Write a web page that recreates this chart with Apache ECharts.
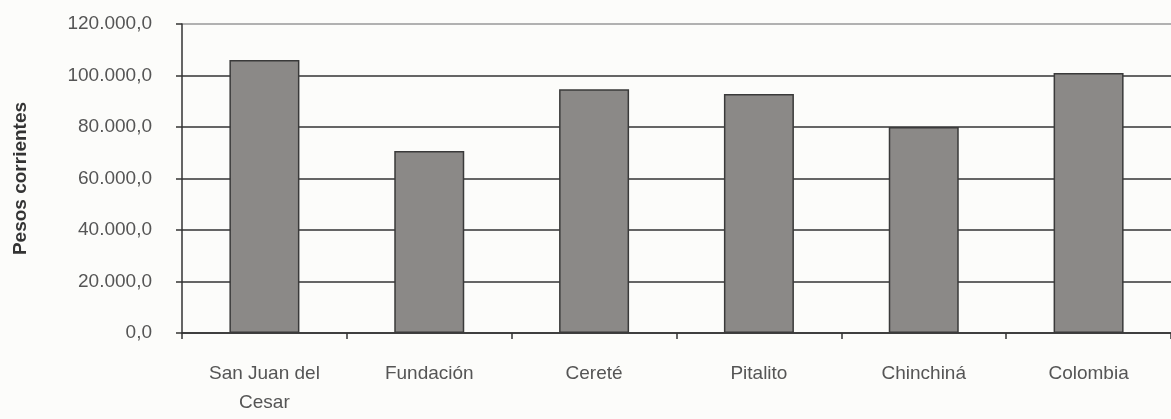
<!DOCTYPE html>
<html>
<head>
<meta charset="utf-8">
<script src="https://cdn.jsdelivr.net/npm/echarts@6/dist/echarts.min.js"></script>
<style>
  html, body { margin: 0; padding: 0; background: #fcfcfa; }
  #chart { width: 1171px; height: 419px; }
</style>
</head>
<body>
<div id="chart"></div>
<script>
// categorías y valores (pesos corrientes)
var categorias = ['San Juan del\nCesar', 'Fundación', 'Cereté', 'Pitalito', 'Chinchiná', 'Colombia'];
var valores = [106000, 70700, 94700, 92800, 80000, 101000];
var ejeY = { min: 0, max: 120000, interval: 20000 };

var chart = echarts.init(document.getElementById('chart'));

function formatoPesos(v) {
  // 120000 -> 120.000,0
  var s = String(Math.round(v)).replace(/\B(?=(\d{3})+(?!\d))/g, '.');
  return s + ',0';
}

var fuente = '"Liberation Sans", Arial, sans-serif';

var option = {
  backgroundColor: '#fcfcfa',
  animation: false,
  grid: { left: 182, top: 24, bottom: 86, width: 999 },
  xAxis: {
    type: 'category',
    data: categorias,
    axisLine: { lineStyle: { color: '#333', width: 1.5 } },
    axisTick: { show: true, length: 6, lineStyle: { color: '#333', width: 1.5 } },
    axisLabel: {
      color: '#555', fontSize: 19, fontFamily: fuente,
      margin: 26, lineHeight: 29
    }
  },
  yAxis: {
    type: 'value',
    min: ejeY.min, max: ejeY.max, interval: ejeY.interval,
    name: 'Pesos corrientes',
    nameLocation: 'middle',
    nameGap: 152,
    nameTextStyle: { color: '#333', fontSize: 19, fontWeight: 'bold', fontFamily: fuente },
    axisLine: { show: true, lineStyle: { color: '#333', width: 1.5 } },
    axisTick: { show: true, length: 6, lineStyle: { color: '#333', width: 1.5 } },
    axisLabel: {
      color: '#555', fontSize: 19, fontFamily: fuente, margin: 30,
      formatter: formatoPesos
    },
    splitLine: {
      show: true,
      lineStyle: { color: ['#333', '#333', '#333', '#333', '#333', '#333', '#999'], width: 1.5 }
    }
  },
  series: [{
    type: 'bar',
    data: valores,
    barWidth: 70,
    itemStyle: { color: '#8b8987', borderColor: '#3a3a3a', borderWidth: 1.5 }
  }]
};
chart.setOption(option);
</script>
</body>
</html>
